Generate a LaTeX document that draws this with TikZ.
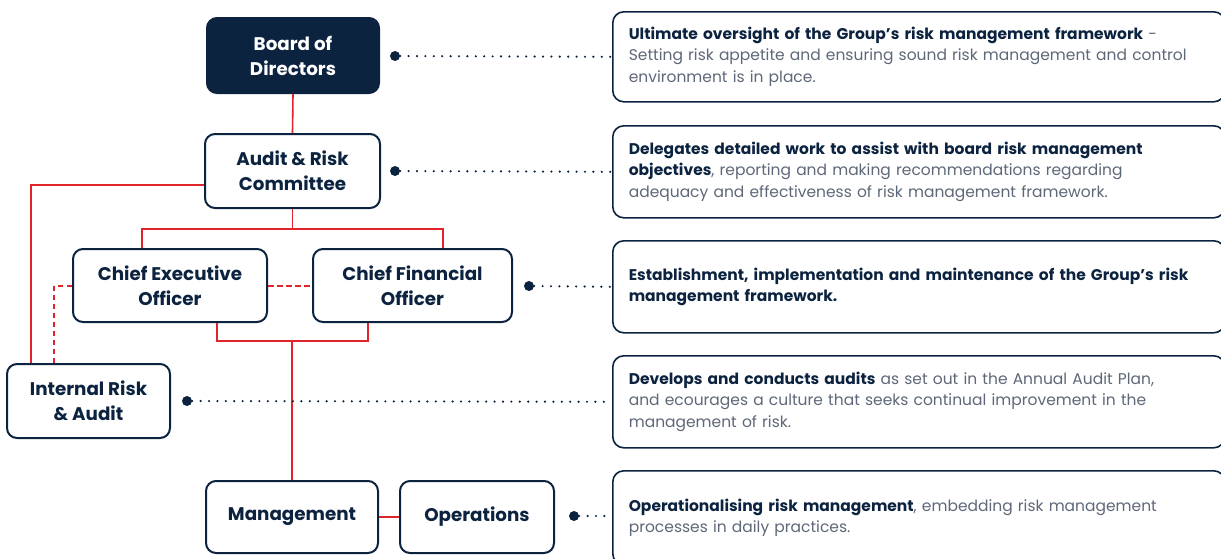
\documentclass[tikz,border=0pt]{standalone}
\usepackage{fontspec}
\setmainfont{Poppins}
\usetikzlibrary{calc}
\definecolor{navy}{HTML}{0C2340}
\definecolor{riskred}{HTML}{E1232B}
\definecolor{bodygrey}{HTML}{5E6878}
\newcommand\keyphrase[1]{{\color{navy}\bfseries #1}}
\begin{document}
\begin{tikzpicture}[x=1pt,y=-1pt,
  orgbox/.style={draw=navy, line width=2pt, rounded corners=10pt, fill=white,
    text=navy, font=\fontsize{18.3}{25}\selectfont\bfseries, align=center,
    inner sep=0pt},
  boardbox/.style={orgbox, fill=navy, text=white},
  descbox/.style={draw=navy, line width=1.6pt, rounded corners=11pt, fill=white,
    anchor=north west, align=left, text width=580pt, inner xsep=16pt, inner ysep=0pt,
    font=\fontsize{15.5}{21.3}\selectfont, text=bodygrey},
  redline/.style={draw=riskred, line width=1.6pt},
  reddash/.style={riskred, line width=2pt, dash pattern=on 5.5pt off 3.5pt},
  dotn/.style={circle, fill=navy, inner sep=0pt, minimum size=10pt},
  dotline/.style={draw=navy, line width=2.4pt, line cap=round, dash pattern=on 0pt off 8.4pt}
]
\useasboundingbox (0,0) rectangle (1221,558);

% organisation boxes
\node[boardbox, minimum width=172pt, minimum height=75pt] (bod) at (293,55.5) {Board of\\Directors};
\node[orgbox, minimum width=175pt, minimum height=74pt] (arc) at (292.5,171) {Audit \& Risk\\Committee};
\node[orgbox, minimum width=194pt, minimum height=73pt] (ceo) at (170,285.5) {Chief Executive\\Officer};
\node[orgbox, minimum width=199pt, minimum height=73pt] (cfo) at (412.5,285.5) {Chief Financial\\Officer};
\node[orgbox, minimum width=163pt, minimum height=74pt] (ira) at (88.5,401) {Internal Risk\\\& Audit};
\node[orgbox, minimum width=172pt, minimum height=72pt] (mgt) at (292,517) {Management};
\node[orgbox, minimum width=154pt, minimum height=72pt] (ops) at (477,517) {Operations};

% reporting lines
\draw[redline] (bod.south) -- (arc.north);
\draw[redline] ([yshift=-14pt]arc.west) -| ([xshift=25pt]ira.north west);
\draw[redline] (arc.south) -- ++(0,20) coordinate (split);
\draw[redline] ([xshift=-28pt]ceo.north) |- (split) -| ([xshift=30.5pt]cfo.north);
\draw[redline] ([xshift=47pt]ceo.south) |- ($(mgt.north)+(0,-139)$) coordinate (merge) -| ([xshift=-44.5pt]cfo.south);
\draw[redline] (merge) -- (mgt.north);
\draw[redline] (mgt.east) -- (ops.west);
\draw[reddash] (ceo.east) -- (cfo.west);
\draw[reddash] (ceo.west) -| ([xshift=48pt]ira.north west);

% responsibility descriptions
\node[descbox, minimum height=90pt] (t1) at (612,11) {%
  \keyphrase{Ultimate oversight of the Group’s risk management framework} -\\
  Setting risk appetite and ensuring sound risk management and control\\
  environment is in place.};
\node[descbox, minimum height=92pt] (t2) at (612,125) {%
  \keyphrase{Delegates detailed work to assist with board risk management}\\
  \keyphrase{objectives}, reporting and making recommendations regarding\\
  adequacy and effectiveness of risk management framework.};
\node[descbox, minimum height=92pt] (t3) at (612,240) {%
  \keyphrase{Establishment, implementation and maintenance of the Group’s risk}\\
  \keyphrase{management framework.}};
\node[descbox, minimum height=92pt] (t4) at (612,355) {%
  \keyphrase{Develops and conducts audits} as set out in the Annual Audit Plan,\\
  and ecourages a culture that seeks continual improvement in the\\
  management of risk.};
\node[descbox, minimum height=94pt] (t5) at (612,470) {%
  \keyphrase{Operationalising risk management}, embedding risk management\\
  processes in daily practices.};

% dotted leaders
\node[dotn] (d1) at (395,56) {};
\node[dotn] (d2) at (395,171) {};
\node[dotn] (d3) at (529,286) {};
\node[dotn] (d4) at (187,401) {};
\node[dotn] (d5) at (574,516) {};
\draw[dotline] (d1) -- (t1.west);
\draw[dotline] (d2) -- (t2.west);
\draw[dotline] (d3) -- (t3.west);
\draw[dotline] (d4) -- (t4.west);
\draw[dotline] (d5) -- (d5 -| t5.west);
\end{tikzpicture}
\end{document}
